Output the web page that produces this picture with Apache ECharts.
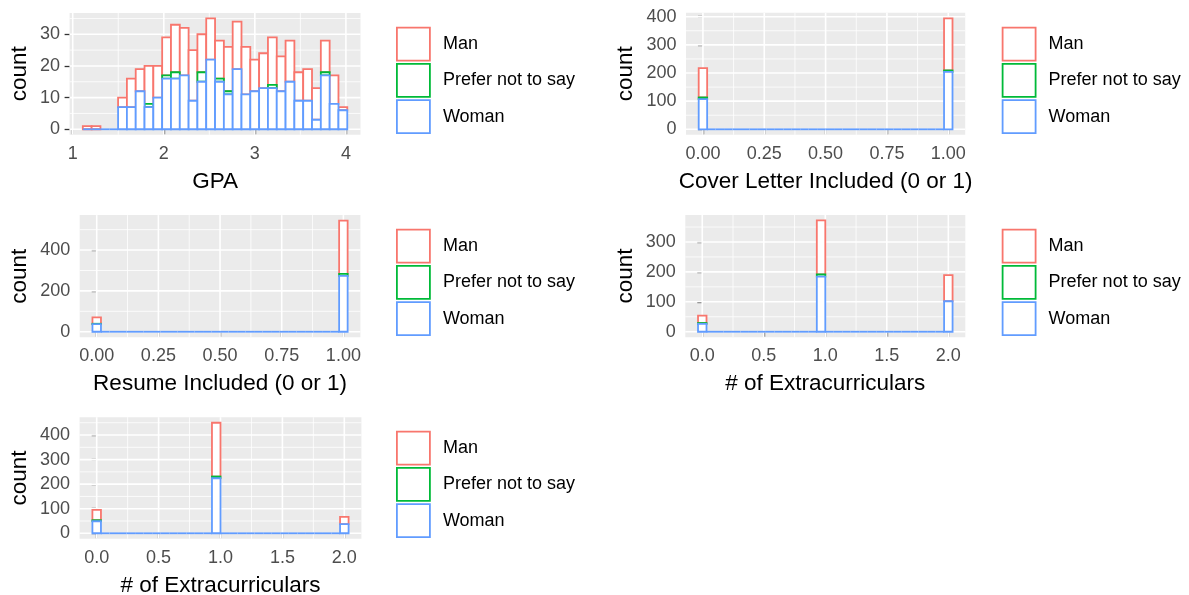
<!DOCTYPE html>
<html><head><meta charset="utf-8">
<script src="https://cdn.jsdelivr.net/npm/echarts@6/dist/echarts.min.js"></script>
<style>html,body{margin:0;padding:0;background:#fff}#c{width:1189px;height:595px}</style>
</head><body><div id="c"></div>
<script>
// ---------- data ----------
const groups = ['Man', 'Prefer not to say', 'Woman'];
const groupColors = ['#F8766D', '#00BA38', '#619CFF'];

// GPA: 30 bins
const gpaBinStart = 1.111;
const gpaBinWidth = 0.0968;
const gpaMan   = [1,1,0,0,3,9,7,12,10,12,15,15,16,12,13,12,14,15,15,10,11,15,11,13,9,10,10,10,9,1];
const gpaPnts  = [0,0,0,0,0,0,0,1,0,1,2,0,0,3,0,1,1,0,0,0,0,1,0,0,0,0,0,1,0,0];
const gpaWoman = [0,0,0,0,7,7,12,7,10,16,16,17,9,15,22,15,11,19,11,12,13,13,12,15,9,9,3,17,8,6];
const gpaXTicks = [1, 2, 3, 4];
const gpaYTicks = [0, 10, 20, 30];

const coverValues = [0, 1];
const coverMan   = [104, 185];
const coverPnts  = [6, 5];
const coverWoman = [107, 204];
const coverXTicks = [0, 0.25, 0.5, 0.75, 1];
const coverYTicks = [0, 100, 200, 300, 400];

const resumeValues = [0, 1];
const resumeMan   = [31, 261];
const resumePnts  = [2, 9];
const resumeWoman = [37, 274];
const resumeXTicks = [0, 0.25, 0.5, 0.75, 1];
const resumeYTicks = [0, 200, 400];

const extraAValues = [0, 1, 2];
const extraAMan   = [25, 180, 87];
const extraAPnts  = [3, 8, 0];
const extraAWoman = [26, 184, 102];
const extraAXTicks = [0, 0.5, 1, 1.5, 2];
const extraAYTicks = [0, 100, 200, 300];

const extraBValues = [0, 1, 2];
const extraBMan   = [42, 219, 30];
const extraBPnts  = [4, 7, 0];
const extraBWoman = [49, 224, 37];
const extraBXTicks = [0, 0.5, 1, 1.5, 2];
const extraBYTicks = [0, 100, 200, 300, 400];

// ---------- helpers ----------
const FONT = "'Liberation Sans', Arial, sans-serif";
const NBINS = 30;
function binCounts(values, counts, binStart, binWidth) {
  const out = new Array(NBINS).fill(0);
  values.forEach((v, i) => {
    let k = Math.ceil((v - binStart) / binWidth - 1e-7) - 1;
    k = Math.max(0, Math.min(NBINS - 1, k));
    out[k] += counts[i];
  });
  return out;
}
function discretePanel(values, man, pnts, woman) {
  const w = (values[values.length - 1] - values[0]) / (NBINS - 1);
  const s = values[0] - w / 2;
  return { binStart: s, binWidth: w,
    counts: [binCounts(values, man, s, w), binCounts(values, pnts, s, w), binCounts(values, woman, s, w)] };
}
function minorBreaks(majors, lo, hi) {
  const step = majors[1] - majors[0];
  const ext = [majors[0] - step, ...majors, majors[majors.length - 1] + step];
  const out = [];
  for (let i = 0; i < ext.length - 1; i++) {
    const m = (ext[i] + ext[i + 1]) / 2;
    if (m >= lo && m <= hi) out.push(m);
  }
  return out;
}

const panels = [
  Object.assign({ binStart: gpaBinStart, binWidth: gpaBinWidth, counts: [gpaMan, gpaPnts, gpaWoman] },
    { xName: 'GPA', xTicks: gpaXTicks, yTicks: gpaYTicks, xDigits: 0,
      grid: { left: 69.6, top: 12.9, width: 290.9, height: 121.9 }, yNameGap: 38, legend: [396, 26.7] }),
  Object.assign(discretePanel(coverValues, coverMan, coverPnts, coverWoman),
    { xName: 'Cover Letter Included (0 or 1)', xTicks: coverXTicks, yTicks: coverYTicks, xDigits: 2,
      grid: { left: 686, top: 12.85, width: 279.2, height: 122 }, yNameGap: 49, legend: [1001.7, 26.7] }),
  Object.assign(discretePanel(resumeValues, resumeMan, resumePnts, resumeWoman),
    { xName: 'Resume Included (0 or 1)', xTicks: resumeXTicks, yTicks: resumeYTicks, xDigits: 2,
      grid: { left: 79.7, top: 215.1, width: 280.7, height: 122.2 }, yNameGap: 48, legend: [396, 228.7] }),
  Object.assign(discretePanel(extraAValues, extraAMan, extraAPnts, extraAWoman),
    { xName: '# of Extracurriculars', xTicks: extraAXTicks, yTicks: extraAYTicks, xDigits: 1,
      grid: { left: 685.3, top: 214.9, width: 280, height: 122.4 }, yNameGap: 48.5, legend: [1001.7, 228.7] }),
  Object.assign(discretePanel(extraBValues, extraBMan, extraBPnts, extraBWoman),
    { xName: '# of Extracurriculars', xTicks: extraBXTicks, yTicks: extraBYTicks, xDigits: 1,
      grid: { left: 79.6, top: 417.2, width: 281.8, height: 121.6 }, yNameGap: 48, legend: [396, 430.7] })
];

const grids = [], xAxes = [], yAxes = [], series = [], legends = [];
panels.forEach((p, pi) => {
  const span = NBINS * p.binWidth;
  const xMin = p.binStart - 0.05 * span, xMax = p.binStart + span + 0.05 * span;
  const [man, pnts, woman] = p.counts;
  const totals = man.map((m, i) => m + pnts[i] + woman[i]);
  const maxT = Math.max(...totals);
  const yMin = -0.05 * maxT, yMax = 1.05 * maxT;

  grids.push(Object.assign({ show: true, backgroundColor: '#EBEBEB', borderWidth: 0, outerBoundsMode: 'none', containLabel: false }, p.grid));
  const tickStyle = { show: true, length: 5, lineStyle: { color: '#333333', width: 1.3 } };
  xAxes.push({
    type: 'value', gridIndex: pi, min: xMin, max: xMax,
    axisLine: { show: false }, splitLine: { show: false },
    axisTick: Object.assign({ customValues: p.xTicks }, tickStyle),
    axisLabel: { customValues: p.xTicks, color: '#4D4D4D', fontSize: 18, fontFamily: FONT, margin: 10,
      formatter: (v) => Number(v).toFixed(p.xDigits) },
    name: p.xName, nameLocation: 'middle', nameGap: 35,
    nameTextStyle: { color: '#000', fontSize: 22.5, fontFamily: FONT }
  });
  yAxes.push({
    type: 'value', gridIndex: pi, min: yMin, max: yMax,
    axisLine: { show: false }, splitLine: { show: false },
    axisTick: Object.assign({ customValues: p.yTicks }, tickStyle),
    axisLabel: { customValues: p.yTicks, color: '#4D4D4D', fontSize: 18, fontFamily: FONT, margin: 9.5,
      formatter: (v) => String(Math.round(v)) },
    name: 'count', nameLocation: 'middle', nameGap: p.yNameGap,
    nameTextStyle: { color: '#000', fontSize: 22.5, fontFamily: FONT }
  });

  // grid lines
  const gl = [];
  p.xTicks.forEach(v => gl.push([v, 1, 0]));
  minorBreaks(p.xTicks, xMin, xMax).forEach(v => gl.push([v, 0, 0]));
  p.yTicks.forEach(v => gl.push([v, 1, 1]));
  minorBreaks(p.yTicks, yMin, yMax).forEach(v => gl.push([v, 0, 1]));
  series.push({
    type: 'custom', name: '_grid' + pi, xAxisIndex: pi, yAxisIndex: pi, silent: true, z: 1,
    data: gl, encode: { x: 0, y: 0 },
    renderItem: (params, api) => {
      const v = api.value(0), major = api.value(1), ax = api.value(2);
      const a = ax === 0 ? api.coord([v, yMin]) : api.coord([xMin, v]);
      const b = ax === 0 ? api.coord([v, yMax]) : api.coord([xMax, v]);
      return { type: 'line', shape: { x1: a[0], y1: a[1], x2: b[0], y2: b[1] },
        style: { stroke: '#FFFFFF', lineWidth: major ? 1.6 : 0.8 } };
    }
  });

  // stacked bins: Man (top) drawn first, then Prefer not to say, then Woman (bottom)
  const lower = [
    man.map((m, i) => woman[i] + pnts[i]),
    pnts.map((q, i) => woman[i]),
    woman.map(() => 0)
  ];
  [0, 1, 2].forEach(g => {
    const data = p.counts[g].map((c, i) => {
      const x0 = p.binStart + i * p.binWidth;
      return [x0, x0 + p.binWidth, lower[g][i], lower[g][i] + c];
    });
    const col = groupColors[g];
    series.push({
      type: 'custom', name: groups[g], xAxisIndex: pi, yAxisIndex: pi, z: 2,
      itemStyle: { color: col },
      data: data, encode: { x: [0, 1], y: [2, 3] },
      renderItem: (params, api) => {
        const p0 = api.coord([api.value(0), api.value(3)]);
        const p1 = api.coord([api.value(1), api.value(2)]);
        const h = p1[1] - p0[1];
        if (Math.abs(h) < 0.01) {
          // zero-height bin: only the bottom group's line stays visible (others are covered)
          if (g !== 2) return null;
          return { type: 'line', shape: { x1: p0[0], y1: p1[1], x2: p1[0], y2: p1[1] },
            style: { stroke: col, lineWidth: 1.8 } };
        }
        return { type: 'rect', shape: { x: p0[0], y: p0[1], width: p1[0] - p0[0], height: h },
          style: { fill: '#FFFFFF', stroke: col, lineWidth: 1.8 } };
      }
    });
  });

  legends.push({
    left: p.legend[0], top: p.legend[1], orient: 'vertical', padding: 0,
    itemGap: 1.5, itemWidth: 33, itemHeight: 33, selectedMode: false,
    textStyle: { fontSize: 18, color: '#000', fontFamily: FONT, padding: [0, 0, 0, 8] },
    data: groups.map((g, k) => ({ name: g, icon: 'rect',
      itemStyle: { color: '#FFFFFF', borderColor: groupColors[k], borderWidth: 1.8 } }))
  });
});

const chart = echarts.init(document.getElementById('c'), null, { renderer: 'canvas' });
chart.setOption({
  animation: false,
  backgroundColor: '#FFFFFF',
  textStyle: { fontFamily: FONT },
  grid: grids, xAxis: xAxes, yAxis: yAxes, legend: legends, series: series
});
</script>
</body></html>
